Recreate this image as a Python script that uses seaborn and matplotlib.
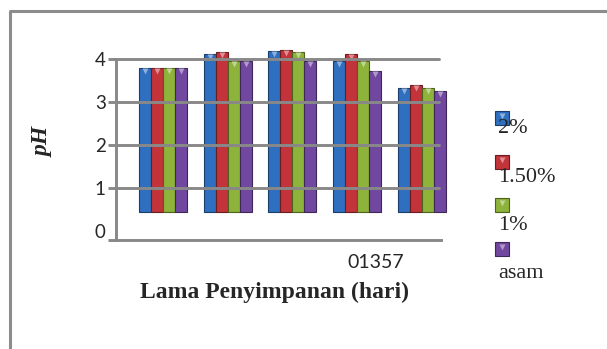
import matplotlib
matplotlib.use("Agg")
import matplotlib.pyplot as plt
import matplotlib.colors as mcolors
import pandas as pd
import seaborn as sns
from matplotlib.lines import Line2D
from matplotlib.patches import Rectangle

# data
hari = ["0", "1", "3", "5", "7"]
konsentrasi = ["2%", "1.50%", "1%", "asam"]
ph_2 = [3.79, 4.12, 4.19, 3.96, 3.32]
ph_150 = [3.79, 4.17, 4.22, 4.12, 3.40]
ph_1 = [3.79, 3.96, 4.17, 3.96, 3.32]
ph_asam = [3.79, 3.96, 3.96, 3.73, 3.26]
warna = ["#2F6FBF", "#C2333A", "#8DB33A", "#7048A0"]

dasar = 0.45  # the bars in the original float a bit above zero

rows = []
for k, vals in zip(konsentrasi, [ph_2, ph_150, ph_1, ph_asam]):
    for h, v in zip(hari, vals):
        rows.append({"hari": h, "konsentrasi": k, "pH": v})
df = pd.DataFrame(rows)

sns.set_style("white")
plt.rcParams["font.family"] = ["Lato", "DejaVu Sans"]

W, H = 607, 349
fig = plt.figure(figsize=(W / 100, H / 100), dpi=100)
ax = fig.add_axes([116 / W, 109 / H, 325 / W, 180.7 / H])

sns.barplot(data=df, x="hari", y="pH", hue="konsentrasi", order=hari,
            hue_order=konsentrasi, palette=warna, width=0.74, saturation=1,
            errorbar=None, legend=False, ax=ax)

gray = "#888888"

def shade(c, f):
    r, g, b = mcolors.to_rgb(c)
    if f < 1:
        return (r * f, g * f, b * f)
    t = f - 1
    return (r + (1 - r) * t, g + (1 - g) * t, b + (1 - b) * t)

for p in ax.patches:
    top = p.get_height()
    p.set_y(dasar)
    p.set_height(top - dasar)
    p.set_clip_on(False)
    fc = p.get_facecolor()
    p.set_edgecolor(shade(fc, 0.55))
    p.set_linewidth(0.8)
    xc = p.get_x() + p.get_width() / 2
    ax.plot(xc, top - 0.07, marker="v", ms=5, color=shade(fc, 1.45),
            mec="none", clip_on=False, zorder=2)

ax.set_xlim(-0.726, 4.297)
ax.set_ylim(-0.21, 4)

for v in [1, 2, 3, 4]:
    ax.axhline(v, xmax=0.994, color=gray, lw=2.1, zorder=3, clip_on=False)

ax.set_xticks([])
ax.set_xlabel("")
ax.set_ylabel("")
ax.set_yticks([0, 1, 2, 3, 4])
ax.set_yticks([-0.21], minor=True)
ax.tick_params(axis="y", which="major", length=5.8, width=2.1, color=gray,
               pad=1.5, labelsize=13.5, left=True)
ax.tick_params(axis="y", which="minor", length=5.8, width=2.1, color=gray,
               left=True)
ax.yaxis.get_major_ticks()[0].tick1line.set_visible(False)

for s in ["top", "right"]:
    ax.spines[s].set_visible(False)
for s in ["left", "bottom"]:
    ax.spines[s].set_color(gray)
    ax.spines[s].set_linewidth(2.1)

# the category labels ended up run together in the original
fig.text(376 / W, 1 - 263 / H, "".join(hari), ha="center", va="center",
         fontsize=14, family=["Lato", "DejaVu Sans"])

fig.text(274 / W, 1 - 292 / H, "Lama Penyimpanan (hari)", ha="center",
         va="center", fontsize=17, weight="bold",
         family=["Liberation Serif", "DejaVu Serif"])
fig.text(43 / W, 1 - 142 / H, "pH", rotation=90, ha="center", va="center",
         fontsize=17, weight="bold", style="italic",
         family=["Liberation Serif", "DejaVu Serif"])

# legend: marker with the label under it
for i, (lab, c) in enumerate(zip(konsentrasi, warna)):
    ym = 118 + 43.5 * i
    fig.add_artist(Rectangle((495 / W, 1 - (ym + 7) / H), 14 / W, 14 / H,
                             transform=fig.transFigure, facecolor=c,
                             edgecolor=shade(c, 0.55), lw=0.8))
    fig.add_artist(Line2D([502 / W], [1 - (ym - 2) / H], marker="v", ms=5,
                          color=shade(c, 1.45), mec="none",
                          transform=fig.transFigure))
    fig.text(498 / W, 1 - (129 + 48 * i) / H, lab, ha="left", va="center",
             fontsize=16, family=["Liberation Serif", "DejaVu Serif"])

# frame of the chart area, cut by the picture edges
fig.add_artist(Line2D([10 / W, 10 / W, 1.01], [-0.01, 1 - 10.5 / H, 1 - 10.5 / H],
                      transform=fig.transFigure, color="#8c8c8c", lw=2.2))

fig.savefig("out.png", dpi=100)
